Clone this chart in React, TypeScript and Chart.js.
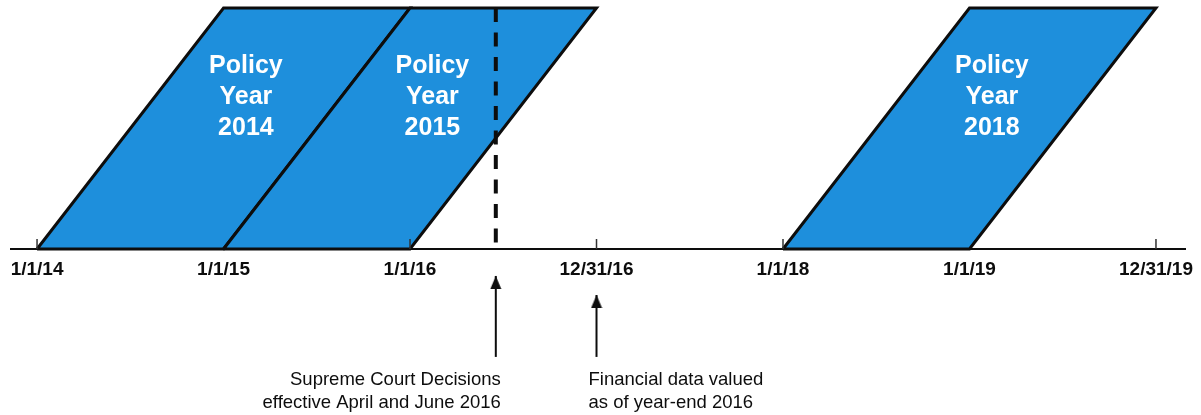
import React, { useEffect, useRef } from 'react';
import { Chart, registerables } from 'chart.js';

Chart.register(...registerables);

// ---------------- data ----------------
const policyYearStarts = [2014, 2015, 2018];
const policyYearNames = ['2014', '2015', '2018'];
const axisTickValues = [2014, 2015, 2016, 2017, 2018, 2019, 2020];
const axisTickLabels = ['1/1/14', '1/1/15', '1/1/16', '12/31/16', '1/1/18', '1/1/19', '12/31/19'];
const visibleTickMarks = [2014, 2016, 2017, 2018, 2020];
const axisExtent = [2013.855, 2020.161];
const courtDecisionDate = 2016.46;
const valuationDate = 2017;
const markerDates = [courtDecisionDate, valuationDate];
const markerTipLevels = [-0.112, -0.191];
const markerTailLevels = [-0.448, -0.448];
const markerTexts = [
  ['Supreme Court Decisions', 'effective April and June 2016'],
  ['Financial data valued', 'as of year-end 2016'],
];
const yRange = [-0.689, 1];

// ---------------- styles ----------------
const BLUE = '#1e8fdc';
const INK = '#0d0d0d';
const FONT = '"Liberation Sans", Arial, sans-serif';

function makeArrowHead(): HTMLCanvasElement {
  const c = document.createElement('canvas');
  c.width = 12;
  c.height = 26;
  const g = c.getContext('2d')!;
  g.fillStyle = INK;
  g.beginPath();
  g.moveTo(6, 13);
  g.lineTo(11.5, 26);
  g.lineTo(0.5, 26);
  g.closePath();
  g.fill();
  return c;
}

const textPlugin = {
  id: 'timelineText',
  afterDatasetsDraw(chart: any) {
    const { ctx } = chart;
    const x = chart.scales.x;
    const y = chart.scales.y;
    const base = y.getPixelForValue(0);
    ctx.save();
    ctx.textBaseline = 'alphabetic';

    // axis labels
    ctx.fillStyle = INK;
    ctx.font = `bold 19px ${FONT}`;
    ctx.textAlign = 'center';
    axisTickValues.forEach((v, i) => {
      ctx.fillText(axisTickLabels[i], x.getPixelForValue(v), base + 26);
    });

    // policy year labels
    ctx.fillStyle = '#ffffff';
    ctx.font = `bold 25px ${FONT}`;
    ctx.textAlign = 'center';
    policyYearStarts.forEach((s, i) => {
      const cx = x.getPixelForValue(s + 1.12);
      const mid = y.getPixelForValue(0.6017);
      ['Policy', 'Year', policyYearNames[i]].forEach((t, j) => {
        ctx.fillText(t, cx, mid + (j - 1) * 31);
      });
    });

    // annotation texts
    ctx.fillStyle = INK;
    ctx.font = `18.5px ${FONT}`;
    markerDates.forEach((d, i) => {
      const px = x.getPixelForValue(d);
      const right = i === 0;
      ctx.textAlign = right ? 'right' : 'left';
      const tx = right ? px + 5 : px - 8;
      markerTexts[i].forEach((t, j) => {
        ctx.fillText(t, tx, base + 136 + j * 23);
      });
    });
    ctx.restore();
  },
};

export default function App() {
  const ref = useRef<HTMLCanvasElement | null>(null);

  useEffect(() => {
    if (!ref.current) return;
    const arrowHead = makeArrowHead();

    const datasets: any[] = [];

    // baseline
    datasets.push({
      data: [
        { x: axisExtent[0], y: 0 },
        { x: axisExtent[1], y: 0 },
      ],
      borderColor: INK,
      borderWidth: 2,
      pointRadius: 0,
      fill: false,
      order: 10,
      clip: false,
    });

    // policy year parallelograms
    policyYearStarts.forEach((s, i) => {
      datasets.push({
        data: [
          { x: s, y: 0 },
          { x: s + 1, y: 1 },
          { x: s + 2, y: 1 },
          { x: s + 1, y: 0 },
          { x: s, y: 0 },
        ],
        borderColor: INK,
        borderWidth: 3,
        borderJoinStyle: 'miter',
        backgroundColor: BLUE,
        fill: 'shape',
        pointRadius: 0,
        tension: 0,
        order: 9 - i,
        clip: false,
      });
    });

    // tick marks
    const tickData: any[] = [];
    visibleTickMarks.forEach((v) => {
      tickData.push({ x: v, y: 0 }, { x: v, y: 0.0415 }, { x: v, y: null });
    });
    datasets.push({
      data: tickData,
      borderColor: '#333',
      borderWidth: 1.5,
      pointRadius: 0,
      spanGaps: false,
      fill: false,
      order: 3,
      clip: false,
    });

    // dashed court decision line
    datasets.push({
      data: [
        { x: courtDecisionDate, y: 1 },
        { x: courtDecisionDate, y: 0 },
      ],
      borderColor: INK,
      borderWidth: 4,
      borderDash: [14, 10.5],
      borderCapStyle: 'butt',
      pointRadius: 0,
      fill: false,
      order: 2,
      clip: false,
    });

    // arrows
    markerDates.forEach((d, i) => {
      datasets.push({
        data: [
          { x: d, y: markerTailLevels[i] },
          { x: d, y: markerTipLevels[i] },
        ],
        borderColor: INK,
        borderWidth: 2,
        pointRadius: [0, 6],
        pointStyle: arrowHead,
        fill: false,
        order: 1,
        clip: false,
      });
    });

    const chart = new Chart(ref.current, {
      type: 'line',
      data: { datasets },
      options: {
        animation: false,
        responsive: false,
        events: [],
        layout: { autoPadding: false, padding: { left: 10, right: 15, top: 8, bottom: 0 } },
        scales: {
          x: { type: 'linear', min: axisExtent[0], max: axisExtent[1], display: false },
          y: { type: 'linear', min: yRange[0], max: yRange[1], display: false },
        },
        plugins: {
          legend: { display: false },
          tooltip: { enabled: false },
        },
      },
      plugins: [textPlugin],
    });
    return () => chart.destroy();
  }, []);

  return (
    <div style={{ position: 'absolute', left: 0, top: 0, width: 1201, height: 415, background: '#fff' }}>
      <canvas ref={ref} width={1201} height={415} style={{ display: 'block' }} />
    </div>
  );
}
